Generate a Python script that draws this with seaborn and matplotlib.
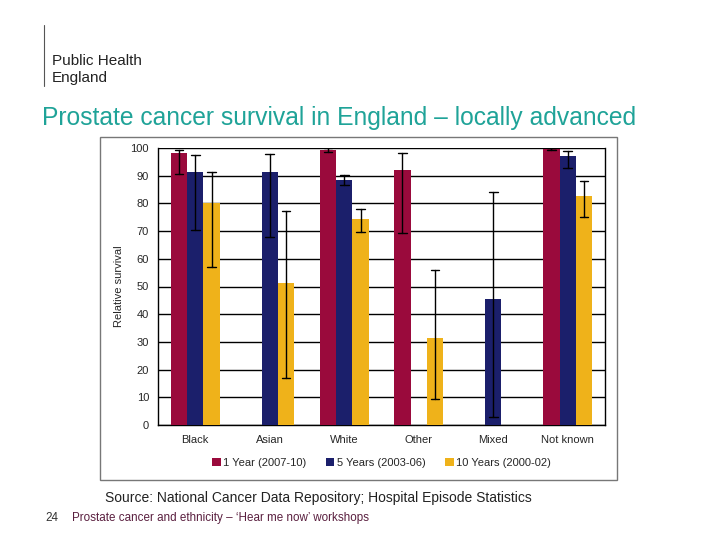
import matplotlib
matplotlib.use("Agg")
import matplotlib.pyplot as plt
from matplotlib.patches import Rectangle
import seaborn as sns
import pandas as pd
import numpy as np

# values
groups = ["Black", "Asian", "White", "Other", "Mixed", "Not known"]
periods = ["1 Year (2007-10)", "5 Years (2003-06)", "10 Years (2000-02)"]

yr1 = [98.2, np.nan, 99.3, 92.0, np.nan, 99.8]
yr1_lo = [90.6, np.nan, 98.7, 69.4, np.nan, 99.2]
yr1_hi = [99.4, np.nan, 99.9, 98.3, np.nan, 100.0]

yr5 = [91.2, 91.3, 88.5, np.nan, 45.4, 97.2]
yr5_lo = [70.5, 67.8, 86.5, np.nan, 2.9, 92.7]
yr5_hi = [97.5, 97.8, 90.3, np.nan, 84.0, 98.9]

yr10 = [80.0, 51.3, 74.5, 31.4, np.nan, 82.7]
yr10_lo = [57.0, 17.0, 69.8, 9.4, np.nan, 75.0]
yr10_hi = [91.3, 77.3, 78.0, 56.0, np.nan, 88.0]

colors = ["#9a0a3c", "#1b1f6b", "#efb21a"]

# long table: (low, estimate, high) per bar -> median is the estimate,
# the 0-100 percentile interval is the confidence interval
rows = []
for p, (v, lo, hi) in zip(periods, [(yr1, yr1_lo, yr1_hi),
                                    (yr5, yr5_lo, yr5_hi),
                                    (yr10, yr10_lo, yr10_hi)]):
    for g, a, b, c in zip(groups, v, lo, hi):
        if np.isnan(a):
            continue
        for val in (b, a, c):
            rows.append({"group": g, "period": p, "survival": val})
df = pd.DataFrame(rows)

sns.set_style("white")
plt.rcParams["font.family"] = ["Liberation Sans", "DejaVu Sans"]

fig = plt.figure(figsize=(7.2, 5.4), dpi=100)
ax = fig.add_axes([158 / 720, 1 - 425 / 540, 447 / 720, 277 / 540])

sns.barplot(data=df, x="group", y="survival", hue="period",
            order=groups, hue_order=periods, palette=colors,
            estimator="median", errorbar=("pi", 100), capsize=0.35,
            err_kws={"color": "black", "linewidth": 1.0, "zorder": 5},
            width=0.66, gap=0, saturation=1, linewidth=0, ax=ax, zorder=3)

ax.set_ylim(0, 100)
ax.set_yticks(range(0, 101, 10))
ax.set_xlim(-0.5, len(groups) - 0.5)
ax.yaxis.grid(True, color="black", linewidth=1.0)
ax.set_axisbelow(True)
for s in ["left", "bottom", "right"]:
    ax.spines[s].set_visible(True)
    ax.spines[s].set_color("black")
    ax.spines[s].set_linewidth(1.0)
ax.spines["top"].set_visible(False)
ax.set_xticks(np.arange(len(groups) + 1) - 0.5, minor=True)
ax.tick_params(axis="x", which="major", length=0, labelsize=8, pad=7)
ax.tick_params(axis="x", which="minor", length=4, direction="out", color="black")
ax.tick_params(axis="y", length=3, direction="out", color="black", labelsize=8)
ax.set_xlabel("")
ax.set_ylabel("Relative survival", fontsize=8, labelpad=5)

leg = ax.legend(loc="center", bbox_to_anchor=(0.5, -0.137), ncol=3,
                frameon=False, fontsize=8, handlelength=0.75, handleheight=0.75,
                handletextpad=0.2, columnspacing=1.8)

# chart frame
fig.patches.append(Rectangle((100 / 720, 1 - 480 / 540), 517 / 720, 343 / 540,
                             transform=fig.transFigure, fill=False,
                             edgecolor="#777777", linewidth=1.0))

# header
fig.add_artist(plt.Line2D([44 / 720, 44 / 720], [1 - 25 / 540, 1 - 86 / 540],
                          transform=fig.transFigure, color="#555555", linewidth=0.8))
fig.text(52 / 720, 1 - 61 / 540, "Public Health", fontsize=11, va="center", color="#222222")
fig.text(52 / 720, 1 - 78 / 540, "England", fontsize=11, va="center", color="#222222")
fig.text(42 / 720, 1 - 118 / 540, "Prostate cancer survival in England \u2013 locally advanced",
         fontsize=17.7, color="#1fa398", va="center")

# footer
fig.text(105 / 720, 1 - 498 / 540,
         "Source: National Cancer Data Repository; Hospital Episode Statistics",
         fontsize=10, va="center", color="#222222")
fig.text(45 / 720, 1 - 518 / 540, "24", fontsize=8.4, va="center", color="#333333")
fig.text(72 / 720, 1 - 518 / 540,
         "Prostate cancer and ethnicity \u2013 \u2018Hear me now\u2019 workshops",
         fontsize=8.4, va="center", color="#5a1f3f")

fig.savefig("out.png", dpi=100)
